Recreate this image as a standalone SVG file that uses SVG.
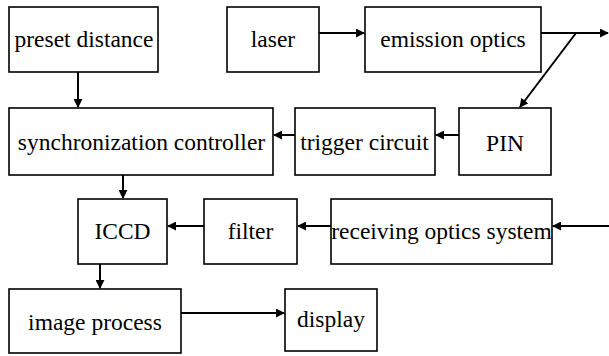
<svg xmlns="http://www.w3.org/2000/svg" width="609" height="356" viewBox="0 0 609 356">
  <style>
    .box { fill: #fff; stroke: #000; stroke-width: 1.6; }
    .lbl { font-family: "Liberation Serif", "Times New Roman", "DejaVu Serif", serif; font-size: 23.5px; fill: #000; text-anchor: middle; }
    .wire { fill: none; stroke: #000; stroke-width: 2; }
  </style>
  <defs>
    <marker id="arrow" viewBox="0 0 10 10" refX="9" refY="5" markerWidth="4.5" markerHeight="4.5" orient="auto" markerUnits="strokeWidth">
      <path d="M0,0 L10,5 L0,10 Z" fill="#000"/>
    </marker>
  </defs>
  <rect width="609" height="356" fill="#fff"/>

  <g id="preset-distance"><rect class="box" x="9" y="7" width="149" height="65"/><text class="lbl" x="84" y="47">preset distance</text></g>
  <g id="laser"><rect class="box" x="227" y="7" width="92" height="65"/><text class="lbl" x="273" y="47">laser</text></g>
  <g id="emission-optics"><rect class="box" x="365" y="7" width="176" height="65"/><text class="lbl" x="453" y="47">emission optics</text></g>
  <g id="sync-controller"><rect class="box" x="9" y="108" width="264" height="67"/><text class="lbl" x="141.5" y="150">synchronization controller</text></g>
  <g id="trigger-circuit"><rect class="box" x="295" y="108" width="140" height="67"/><text class="lbl" x="364.5" y="150">trigger circuit</text></g>
  <g id="pin"><rect class="box" x="459" y="108" width="92" height="67"/><text class="lbl" x="505" y="151">PIN</text></g>
  <g id="iccd"><rect class="box" x="78" y="199" width="89" height="65"/><text class="lbl" x="122.5" y="239">ICCD</text></g>
  <g id="filter"><rect class="box" x="204" y="199" width="93" height="65"/><text class="lbl" x="250.5" y="239">filter</text></g>
  <g id="receiving-optics"><rect class="box" x="331" y="199" width="221" height="65"/><text class="lbl" x="441.5" y="239">receiving optics system</text></g>
  <g id="image-process"><rect class="box" x="9" y="289" width="172" height="64"/><text class="lbl" x="95" y="330">image process</text></g>
  <g id="display"><rect class="box" x="285" y="289" width="92" height="62"/><text class="lbl" x="331" y="327">display</text></g>

  <g id="connectors">
    <path class="wire" d="M78,72 V107" marker-end="url(#arrow)"/>
    <path class="wire" d="M319,33 H364" marker-end="url(#arrow)"/>
    <path class="wire" d="M541,33 H608" marker-end="url(#arrow)"/>
    <path class="wire" d="M576,33 L520,107" marker-end="url(#arrow)"/>
    <path class="wire" d="M459,135 H436" marker-end="url(#arrow)"/>
    <path class="wire" d="M295,135 H274" marker-end="url(#arrow)"/>
    <path class="wire" d="M123,175 V198" marker-end="url(#arrow)"/>
    <path class="wire" d="M609,226 H553" marker-end="url(#arrow)"/>
    <path class="wire" d="M331,226 H298" marker-end="url(#arrow)"/>
    <path class="wire" d="M204,226 H168" marker-end="url(#arrow)"/>
    <path class="wire" d="M100,264 V288" marker-end="url(#arrow)"/>
    <path class="wire" d="M181,313 H284" marker-end="url(#arrow)"/>
  </g>
</svg>
